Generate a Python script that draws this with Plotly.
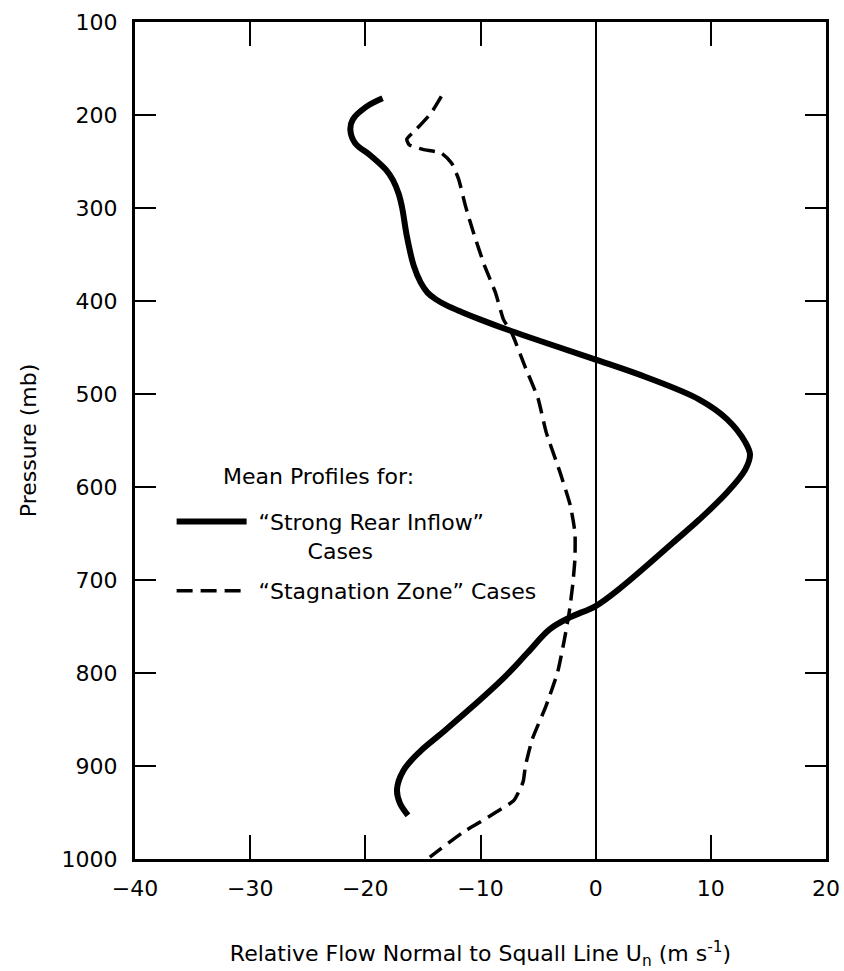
import plotly.graph_objects as go

# Mean relative-flow profiles (m/s) versus pressure (mb)
pressure_rear = [182, 191, 205, 216, 230, 244, 259, 270, 285, 300, 330, 362, 380,
                 391, 398, 405, 412, 420, 432, 446, 463, 482, 506, 527, 552, 565,
                 581, 606, 635, 660, 685, 710, 728, 740, 753, 778, 803, 835, 864,
                 885, 905, 925, 940, 953]
u_rear = [-18.5, -19.9, -21.1, -21.3, -20.9, -19.5, -18.2, -17.6, -17.1, -16.8,
          -16.4, -15.8, -15.2, -14.6, -13.9, -12.9, -11.6, -10.0, -7.4, -4.1, 0.0,
          4.4, 9.0, 11.4, 13.0, 13.4, 13.0, 11.4, 9.0, 6.7, 4.4, 2.0, 0.0, -2.2,
          -4.0, -5.9, -7.8, -10.6, -13.3, -15.3, -16.7, -17.25, -17.0, -16.3]

pressure_stag = [180, 198, 217, 226, 232, 237, 241, 252, 269, 298, 327, 362, 391,
                 420, 434, 470, 505, 541, 584, 620, 649, 677, 706, 735, 763, 799,
                 835, 871, 900, 917, 937, 950, 960, 971, 998]
u_stag = [-13.4, -14.3, -15.7, -16.4, -16.2, -15.0, -13.4, -12.5, -11.9, -11.3,
          -10.6, -9.65, -8.7, -8.0, -7.3, -6.15, -5.0, -4.3, -3.1, -2.2, -1.8,
          -1.8, -2.0, -2.3, -2.7, -3.3, -4.3, -5.5, -6.1, -6.3, -7.1, -8.7, -10.0,
          -11.5, -14.4]

x_ticks = [-40, -30, -20, -10, 0, 10, 20]
y_ticks = [100, 200, 300, 400, 500, 600, 700, 800, 900, 1000]

NBSP = "\u00a0"

fig = go.Figure()
fig.add_trace(go.Scatter(
    x=u_rear, y=pressure_rear, mode="lines", legendgroup="rear",
    name=NBSP + "\u201cStrong Rear Inflow\u201d<br>" + NBSP * 8 + "Cases",
    line=dict(color="black", width=6, shape="spline", smoothing=1.0),
))
fig.add_trace(go.Scatter(
    x=u_stag, y=pressure_stag, mode="lines", legendgroup="stag",
    name=NBSP + "\u201cStagnation Zone\u201d Cases",
    line=dict(color="black", width=3.5, dash="16px,8px", shape="spline", smoothing=0.5),
))

axis_common = dict(
    showline=True, linewidth=3, linecolor="black", mirror="ticks",
    ticks="inside", tickwidth=2, tickcolor="black", showgrid=False,
    tickfont=dict(size=22, color="black"), automargin=False,
)

fig.update_layout(
    width=844, height=971,
    margin=dict(l=135, r=18, t=22, b=112),
    paper_bgcolor="white", plot_bgcolor="white",
    font=dict(family="DejaVu Sans", size=22, color="black"),
    xaxis=dict(
        range=[-40, 20], tickvals=x_ticks, ticklen=24,
        zeroline=True, zerolinecolor="black", zerolinewidth=1.5,
        ticklabelstandoff=8,
        title=dict(text="Relative Flow Normal to Squall Line U<sub>n</sub> (m s<sup>-1</sup>)",
                   standoff=46, font=dict(size=22)),
        **axis_common,
    ),
    yaxis=dict(
        range=[1000, 100], tickvals=y_ticks, ticklen=21, zeroline=False,
        ticklabelstandoff=10,
        title=dict(text="Pressure (mb)", standoff=19, font=dict(size=22)),
        **axis_common,
    ),
    showlegend=True,
    legend=dict(
        x=0.053, y=0.428, xanchor="left", yanchor="top",
        bgcolor="rgba(0,0,0,0)", valign="top", itemwidth=70,
        font=dict(size=22), tracegroupgap=9,
    ),
    annotations=[dict(
        text="Mean Profiles for:", xref="paper", yref="paper",
        x=0.124, y=0.4568, xanchor="left", yanchor="middle",
        showarrow=False, font=dict(size=22),
    )],
)

fig.write_html("out.html")
